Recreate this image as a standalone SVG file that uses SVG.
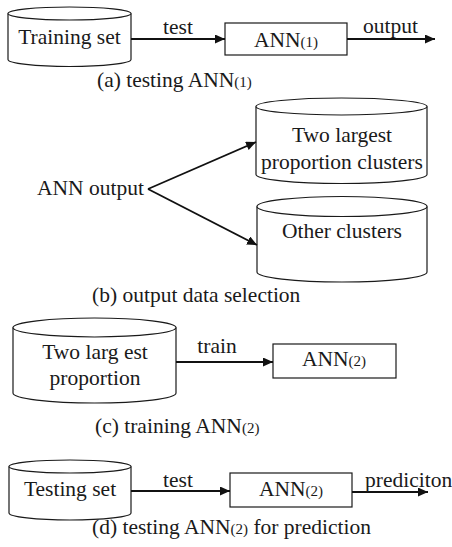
<svg xmlns="http://www.w3.org/2000/svg" width="452" height="547" viewBox="0 0 452 547">
<style>
text{font-family:"Liberation Serif","Times New Roman",serif;font-size:21.5px;fill:#1a1a1a}
.c{text-anchor:middle}
.sub{font-size:15px}
.shape{fill:#fff;stroke:#1a1a1a;stroke-width:1.2}
.edge{fill:none;stroke:#111;stroke-width:1.8}
</style>
<defs>
<marker id="ah" markerUnits="userSpaceOnUse" markerWidth="12" markerHeight="10" refX="10" refY="4.5" orient="auto">
<path d="M0,0 L10,4.5 L0,9 Z" fill="#111"/>
</marker>
</defs>
<rect width="452" height="547" fill="#fff"/>

<!-- (a) -->
<g id="training-set">
<path class="shape" d="M8,13.5 L8,59.5 A61.5,7 0 0 0 131,59.5 L131,13.5"/>
<ellipse class="shape" cx="69.5" cy="13.5" rx="61.5" ry="6.5"/>
<text class="c" x="69.5" y="44">Training set</text>
</g>
<g id="ann1">
<rect class="shape" x="225" y="23" width="122" height="32"/>
<text x="254" y="46.5">ANN<tspan class="sub">(1)</tspan></text>
</g>
<text id="cap-a" x="97" y="87">(a) testing ANN<tspan class="sub">(1)</tspan></text>

<!-- (b) -->
<g id="ann-output">
<text x="37" y="195">ANN output</text>
</g>
<g id="two-largest-clusters">
<path class="shape" d="M256,106.5 L256,174.5 A85.5,9 0 0 0 427,174.5 L427,106.5"/>
<ellipse class="shape" cx="341.5" cy="106.5" rx="85.5" ry="8.5"/>
<text class="c" x="342" y="142">Two largest</text>
<text class="c" x="342" y="169">proportion clusters</text>
</g>
<g id="other-clusters">
<path class="shape" d="M257,206.5 L257,272 A85,10 0 0 0 427,272 L427,206.5"/>
<ellipse class="shape" cx="342" cy="206.5" rx="85" ry="10"/>
<text class="c" x="342" y="238">Other clusters</text>
</g>
<text id="cap-b" x="92" y="302">(b) output data selection</text>

<!-- (c) -->
<g id="two-largest">
<path class="shape" d="M13,327.5 L13,393 A81.5,10 0 0 0 176,393 L176,327.5"/>
<ellipse class="shape" cx="94.5" cy="327.5" rx="81.5" ry="9.5"/>
<text class="c" x="95" y="359">Two larg est</text>
<text class="c" x="95" y="385">proportion</text>
</g>
<g id="ann2-train">
<rect class="shape" x="273" y="344" width="123" height="34"/>
<text x="302" y="366">ANN<tspan class="sub">(2)</tspan></text>
</g>
<text id="cap-c" x="95" y="433">(c) training ANN<tspan class="sub">(2)</tspan></text>

<!-- (d) -->
<g id="testing-set">
<path class="shape" d="M9,466.5 L9,513 A61,7 0 0 0 131,513 L131,466.5"/>
<ellipse class="shape" cx="70" cy="466.5" rx="61" ry="6.5"/>
<text class="c" x="70" y="496">Testing set</text>
</g>
<g id="ann2-test">
<rect class="shape" x="230" y="473" width="122" height="34"/>
<text x="259" y="496">ANN<tspan class="sub">(2)</tspan></text>
</g>
<text id="cap-d" x="92" y="534">(d) testing ANN<tspan class="sub">(2)</tspan> for prediction</text>

<g id="connectors">
<line class="edge" x1="131" y1="39" x2="225" y2="39" marker-end="url(#ah)"/>
<text class="c" x="178" y="34">test</text>
<line class="edge" x1="347" y1="39" x2="435" y2="39" marker-end="url(#ah)"/>
<text x="363" y="33">output</text>
<line class="edge" x1="148" y1="189" x2="256" y2="142" marker-end="url(#ah)"/>
<line class="edge" x1="148" y1="189" x2="257" y2="245" marker-end="url(#ah)"/>
<line class="edge" x1="176" y1="362" x2="273" y2="362" marker-end="url(#ah)"/>
<text class="c" x="217" y="353">train</text>
<line class="edge" x1="131" y1="491" x2="230" y2="491" marker-end="url(#ah)"/>
<text class="c" x="178" y="487">test</text>
<line class="edge" x1="352" y1="492" x2="428" y2="492" marker-end="url(#ah)"/>
<text x="365" y="487">prediciton</text>
</g>
</svg>
